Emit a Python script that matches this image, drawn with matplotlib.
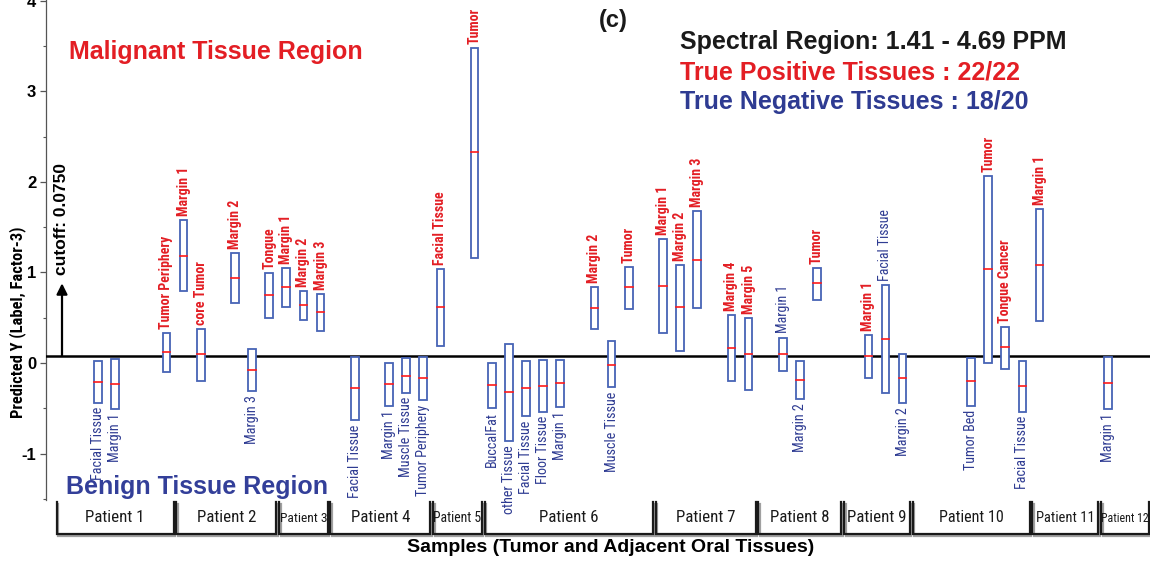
import matplotlib
matplotlib.use("Agg")
import matplotlib.pyplot as plt
import matplotlib.patheffects as pe
from matplotlib import font_manager
from matplotlib.patches import Rectangle

# ---- data ----
cutoff = 0.075

# slot position, tissue name, low, high, median, class (M malignant / B benign)
slots = [3, 4, 7, 8, 9, 11, 12, 13, 14, 15, 16, 18, 20, 21, 22, 23, 25,
         26, 27, 28, 29, 30, 32, 33, 34, 36, 37, 38, 40, 41, 43, 44, 45,
         48, 49, 50, 54, 55, 56, 57, 58, 62]
names = ['Facial Tissue', 'Margin 1', 'Tumor Periphery', 'Margin 1', 'core Tumor',
         'Margin 2', 'Margin 3', 'Tongue', 'Margin 1', 'Margin 2', 'Margin 3',
         'Facial Tissue', 'Margin 1', 'Muscle Tissue', 'Tumor Periphery',
         'Facial Tissue', 'Tumor',
         'BuccalFat', 'other Tissue', 'Facial Tissue', 'Floor Tissue', 'Margin 1',
         'Margin 2', 'Muscle Tissue', 'Tumor',
         'Margin 1', 'Margin 2', 'Margin 3', 'Margin 4', 'Margin 5',
         'Margin 1', 'Margin 2', 'Tumor',
         'Margin 1', 'Facial Tissue', 'Margin 2',
         'Tumor Bed', 'Tumor', 'Tongue Cancer', 'Facial Tissue',
         'Margin 1', 'Margin 1']
lows = [-0.44, -0.51, -0.10, 0.79, -0.20, 0.66, -0.31, 0.50, 0.62, 0.48, 0.35,
        -0.63, -0.47, -0.33, -0.41, 0.19, 1.16,
        -0.50, -0.86, -0.59, -0.54, -0.48, 0.37, -0.27, 0.60,
        0.33, 0.13, 0.61, -0.20, -0.30,
        -0.09, -0.40, 0.70,
        -0.16, -0.33, -0.44,
        -0.47, 0.00, -0.07, -0.54, 0.46, -0.51]
highs = [0.02, 0.04, 0.33, 1.58, 0.37, 1.21, 0.15, 0.99, 1.05, 0.79, 0.76,
         0.07, 0.00, 0.05, 0.07, 1.04, 3.48,
         0.00, 0.21, 0.02, 0.03, 0.03, 0.84, 0.24, 1.06,
         1.37, 1.08, 1.68, 0.53, 0.50,
         0.28, 0.02, 1.05,
         0.31, 0.86, 0.10,
         0.05, 2.06, 0.40, 0.02, 1.70, 0.07]
medians = [-0.21, -0.23, 0.12, 1.18, 0.10, 0.94, -0.08, 0.75, 0.84, 0.64, 0.56,
           -0.28, -0.23, -0.14, -0.17, 0.62, 2.33,
           -0.24, -0.32, -0.28, -0.25, -0.22, 0.61, -0.02, 0.84,
           0.85, 0.62, 1.14, 0.17, 0.10,
           0.10, -0.19, 0.88,
           0.08, 0.27, -0.17,
           -0.20, 1.04, 0.18, -0.25, 1.08, -0.22]
classes = list('BBMMMMBM' 'MMM' 'BBBB' 'MM' 'BBBBBMBM' 'MMMMM' 'BBM' 'MBB' 'BMMB' 'M' 'B')

patients = ['Patient %d' % i for i in range(1, 13)]
patient_edges = [0.5, 7.5, 13.5, 16.5, 22.5, 25.5, 35.5, 41.5, 46.5, 50.5, 57.5, 61.5, 64.5]
patient_fs = [12.5, 12.5, 10, 12.5, 10.2, 12.5, 12.5, 12.5, 12.5, 12, 10.8, 8.8]

RED = '#e31e24'
BLUE = '#2e3b92'
BOX = '#4763b5'

plt.rcParams['font.family'] = ['Liberation Sans', 'DejaVu Sans']
plt.rcParams['axes.unicode_minus'] = False

# narrow font if one is installed, otherwise a smaller regular one
avail = {f.name for f in font_manager.fontManager.ttflist}
narrow, nscale, has_narrow = ['Liberation Sans', 'DejaVu Sans'], 0.82, False
for fam, sc in [('Liberation Sans Narrow', 1.0), ('Arial Narrow', 1.0),
                ('Roboto Condensed', 0.97), ('Open Sans Condensed', 0.95),
                ('Noto Sans Condensed', 0.95)]:
    if fam in avail:
        narrow, nscale, has_narrow = [fam, 'Liberation Sans'], sc, True
        break

W, H = 1150, 562
fig = plt.figure(figsize=(W / 100, H / 100), dpi=100)
ax = fig.add_axes([46 / W, (H - 500) / H, 1 - 46 / W, 500 / H])
ax.set_xlim(-0.035, 64.45)
ax.set_ylim(-1.512, 4.007)

for s in ['top', 'right', 'bottom']:
    ax.spines[s].set_visible(False)
ax.spines['left'].set_color('#555555')
ax.spines['left'].set_linewidth(0.9)
ax.set_xticks([])
ax.set_yticks([-1, 0, 1, 2, 3, 4])
ax.set_yticks([-1.5, -0.5, 0.5, 1.5, 2.5, 3.5], minor=True)
ax.tick_params(axis='y', which='major', length=4, width=0.9, color='#555555',
               labelsize=12, pad=3)
ax.tick_params(axis='y', which='minor', length=2.5, width=0.8, color='#555555')
for t in ax.get_yticklabels():
    t.set_fontweight('bold')

# cutoff line
ax.axhline(cutoff, color='black', lw=1.8, zorder=3)

# boxes
bw = 0.45
for x, nm, lo, hi, md, c in zip(slots, names, lows, highs, medians, classes):
    ax.add_patch(Rectangle((x - bw / 2, lo), bw, hi - lo, facecolor='white',
                           edgecolor=BOX, lw=1.3, zorder=4))
    ax.plot([x - bw / 2, x + bw / 2], [md, md], color='#ff1a1a', lw=1.2, zorder=5)
    col = RED if c == 'M' else BLUE
    wt = 'bold' if c == 'M' else 'normal'
    if md > cutoff:
        ax.annotate(nm, (x, hi), xytext=(0, 3), textcoords='offset points',
                    rotation=90, ha='center', va='bottom', color=col,
                    fontsize=10.3 * nscale, fontweight=wt, family=narrow,
                    annotation_clip=False, zorder=6)
    else:
        ax.annotate(nm, (x, lo), xytext=(0, -3), textcoords='offset points',
                    rotation=90, ha='center', va='top', color=col,
                    fontsize=10.5 * nscale, fontweight=wt, family=narrow,
                    annotation_clip=False, zorder=6)

# patient brackets below the axis
tr = ax.get_xaxis_transform()
shadow = [pe.SimpleLineShadow(offset=(1.2, -1.2), shadow_color='#888888', alpha=0.8),
          pe.Normal()]
for i, p in enumerate(patients):
    x0, x1 = patient_edges[i] + 0.08, patient_edges[i + 1] - 0.08
    ax.plot([x0, x0, x1, x1], [-0.004, -0.068, -0.068, -0.004], color='#1a1a1a',
            lw=1.6, transform=tr, clip_on=False, solid_joinstyle='miter',
            path_effects=shadow)
    ax.text((x0 + x1) / 2, -0.036, p, transform=tr, ha='center', va='center',
            fontsize=patient_fs[i] * nscale, family=narrow, color='#1a1a1a')

# cutoff arrow + text
ax.annotate('', xy=(0.9, 0.88), xytext=(0.9, cutoff + 0.005),
            arrowprops=dict(arrowstyle='-|>', color='black', lw=1.6,
                            mutation_scale=16, shrinkA=0, shrinkB=0))
fig.text(62 / W, 1 - 219 / H, 'cutoff: 0.0750', rotation=90, ha='center',
         va='center', fontsize=12.5, fontweight='bold')

# texts
fig.text(69 / W, 1 - 52 / H, 'Malignant Tissue Region', color=RED, fontsize=18,
         fontweight='bold', ha='left', va='center')
fig.text(66 / W, 1 - 487 / H, 'Benign Tissue Region', color='#333f99', fontsize=18,
         fontweight='bold', ha='left', va='center')
fig.text(613 / W, 1 - 21 / H, '(c)', fontsize=17, fontweight='bold', ha='center',
         va='center', color='#1a1a1a')
fig.text(680 / W, 1 - 42 / H, 'Spectral Region: 1.41 - 4.69 PPM', fontsize=18,
         fontweight='bold', ha='left', va='center', color='#1a1a1a')
fig.text(680 / W, 1 - 72 / H, 'True Positive Tissues : 22/22', fontsize=18,
         fontweight='bold', ha='left', va='center', color=RED)
fig.text(680 / W, 1 - 102 / H, 'True Negative Tissues : 18/20', fontsize=18,
         fontweight='bold', ha='left', va='center', color=BLUE)

fig.text(18 / W, 1 - 322 / H, 'Predicted Y (Label, Factor-3)', rotation=90,
         ha='center', va='center', fontsize=12.3 * nscale, fontweight='bold',
         family=narrow)
fig.text(611 / W, 1 - 548 / H, 'Samples (Tumor and Adjacent Oral Tissues)',
         ha='center', va='center', fontsize=14, fontweight='bold')

fig.savefig('out.png', dpi=100)
